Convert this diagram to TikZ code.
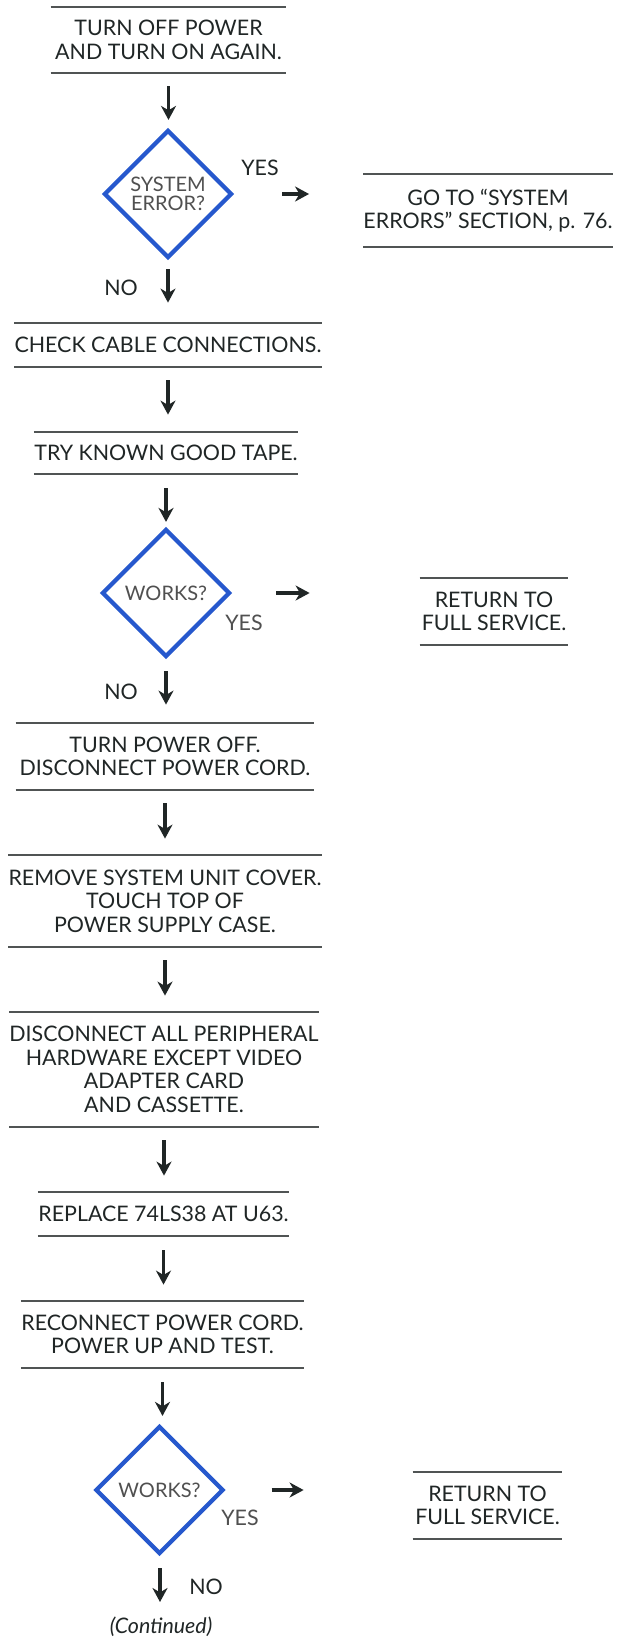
\documentclass[tikz,border=0pt]{standalone}
\usepackage{fontspec}
\setmainfont{Lato}
\usetikzlibrary{shapes.geometric,arrows.meta,calc}
\definecolor{ink}{RGB}{32,38,38}
\definecolor{rulegray}{RGB}{80,84,84}
\definecolor{dblue}{RGB}{38,88,205}
\definecolor{dtext}{RGB}{80,80,80}
\begin{document}
\begin{tikzpicture}[x=0.5pt,y=-0.5pt,
  every node/.style={text=ink,font=\fontsize{10.7}{11.8}\selectfont},
  stepbox/.style 2 args={align=center,inner sep=0pt,minimum width=#1,minimum height=#2},
  hrule/.style={draw=rulegray,line width=1pt},
  dia/.style={diamond,draw=dblue,line width=2.1pt,inner sep=0pt,aspect=1,
    minimum width=64pt,minimum height=64pt,align=center,text=dtext,
    font=\fontsize{10}{9.7}\selectfont},
  arr/.style={draw=ink,line width=1.6pt,-{Stealth[length=7pt,width=7.5pt,inset=2.2pt]}}]
\fill[white] (0,0) rectangle (624,1638);
\useasboundingbox (0,0) rectangle (624,1638);

% main column boxes
\node[stepbox={117.5pt}{33pt}] (b1) at (168.5,40) {TURN OFF POWER\\AND TURN ON AGAIN.};
\node[dia] (d1) at (168,194) {\raisebox{-2pt}{\parbox{40pt}{\centering SYSTEM\\ERROR?}}};
\node[stepbox={118pt}{36.5pt}] (r1) at (488,210.5) {GO TO “SYSTEM\\ERRORS” SECTION, p. 76.};
\node[stepbox={150pt}{22pt}] (b2) at (168,345) {CHECK CABLE CONNECTIONS.};
\node[stepbox={127.5pt}{21pt}] (b3) at (166,453) {TRY KNOWN GOOD TAPE.};
\node[dia] (d2) at (166,593) {\raisebox{-3pt}{WORKS?}};
\node[stepbox={74pt}{33.5pt}] (r2) at (494,611.5) {RETURN TO\\FULL SERVICE.};
\node[stepbox={149pt}{33.5pt}] (b4) at (165,756.5) {TURN POWER OFF.\\DISCONNECT POWER CORD.};
\node[stepbox={149pt}{46pt}] (b5) at (165,901) {REMOVE SYSTEM UNIT COVER.\\TOUCH TOP OF\\POWER SUPPLY CASE.};
\node[stepbox={148pt}{57.5pt}] (b6) at (164,1069.5) {DISCONNECT ALL PERIPHERAL\\HARDWARE EXCEPT VIDEO\\ADAPTER CARD\\AND CASSETTE.};
\node[stepbox={116.5pt}{22pt}] (b7) at (163.5,1214) {REPLACE 74LS38 AT U63.};
\node[stepbox={137.5pt}{33.5pt}] (b8) at (162.5,1334.5) {RECONNECT POWER CORD.\\POWER UP AND TEST.};
\node[dia] (d3) at (159.5,1490) {\raisebox{-3pt}{WORKS?}};
\node[stepbox={74.5pt}{33.5pt}] (r3) at (487.5,1505.5) {RETURN TO\\FULL SERVICE.};

\foreach \n in {b1,r1,b2,b3,r2,b4,b5,b6,b7,b8,r3}
  \draw[hrule] (\n.north west) -- (\n.north east) (\n.south west) -- (\n.south east);

% labels
\node (y1) at (260,168) {YES};
\node (n1) at (121,288) {NO};
\node[text=dtext] (y2) at (244,623) {YES};
\node (n2) at (121,692) {NO};
\node[text=dtext] (y3) at (240,1518) {YES};
\node (n3) at (206,1587) {NO};
\node (cont) at (161,1627) {\itshape (Continued)};
\coordinate (endno) at (160,1602);

% vertical arrows
\draw[arr,shorten <=6.5pt,shorten >=4pt] (b1.south) -- (b1.south |- d1.north);
\draw[arr,shorten <=4.5pt,shorten >=10pt] (d1.south) -- (d1.south |- b2.north);
\draw[arr,shorten <=6.5pt,shorten >=8.5pt] (b2.south) -- (b2.south |- b3.north);
\draw[arr,shorten <=7pt,shorten >=2.5pt] (b3.south) -- (b3.south |- d2.north);
\draw[arr,shorten <=6pt,shorten >=9pt] (d2.south) -- (d2.south |- b4.north);
\draw[arr,shorten <=6.5pt,shorten >=8pt] (b4.south) -- (b4.south |- b5.north);
\draw[arr,shorten <=6.5pt,shorten >=8pt] (b5.south) -- (b5.south |- b6.north);
\draw[arr,shorten <=6.5pt,shorten >=8pt] (b6.south) -- (b6.south |- b7.north);
\draw[arr,shorten <=7pt,shorten >=8pt] (b7.south) -- (b7.south |- b8.north);
\draw[arr,shorten <=7pt,shorten >=4pt] (b8.south) -- (b8.south |- d3.north);
\draw[arr,shorten <=6pt] (d3.south -| endno) -- (endno);

% yes arrows
\draw[arr,shorten <=24pt,shorten >=27pt] (d1.east) -- (d1.east -| r1.west);
\draw[arr,shorten <=22pt,shorten >=55pt] (d2.east) -- (d2.east -| r2.west);
\draw[arr,shorten <=23pt,shorten >=54.5pt] (d3.east) -- (d3.east -| r3.west);
\end{tikzpicture}
\end{document}
